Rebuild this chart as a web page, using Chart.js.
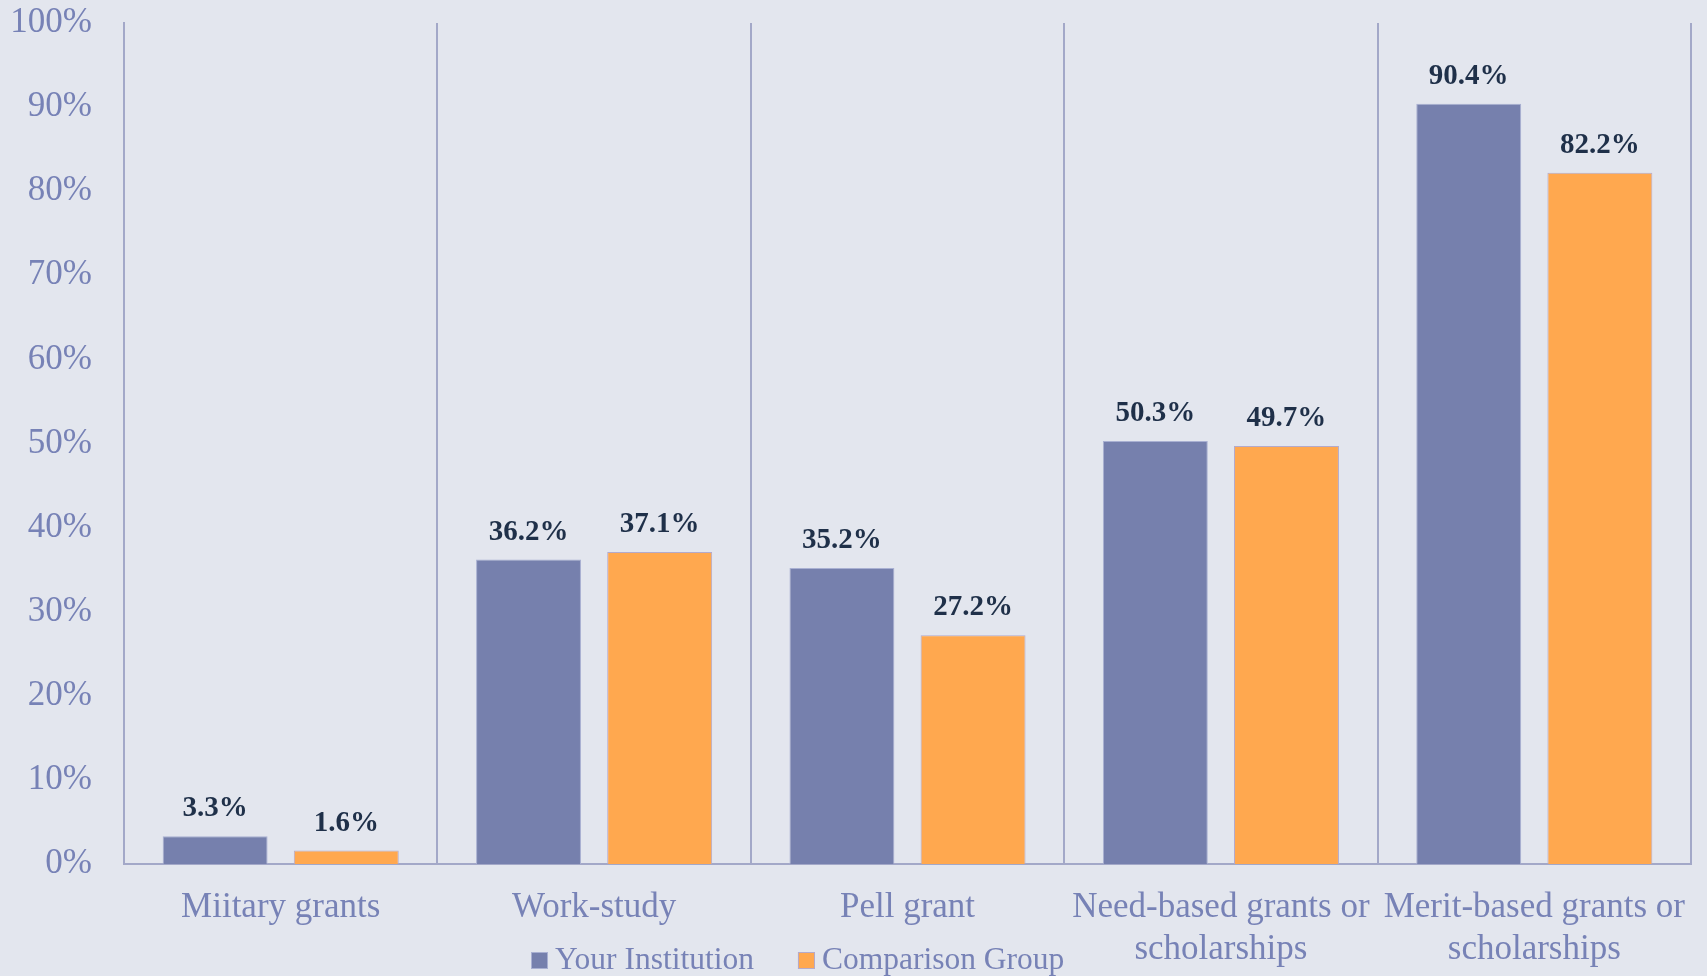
<!DOCTYPE html>
<html>
<head>
<meta charset="utf-8">
<script src="https://cdn.jsdelivr.net/npm/chart.js@4.4.1/dist/chart.umd.min.js"></script>
<style>
  html, body { margin: 0; padding: 0; background: #e3e6ee; }
  #wrap { width: 1707px; height: 976px; }
</style>
</head>
<body>
<div id="wrap"><canvas id="c" width="1707" height="976"></canvas></div>
<script>
const categories = [
  "Miitary grants",
  "Work-study",
  "Pell grant",
  ["Need-based grants or", "scholarships"],
  ["Merit-based grants or", "scholarships"]
];
const yourInstitution = [3.3, 36.2, 35.2, 50.3, 90.4];
const comparisonGroup = [1.6, 37.1, 27.2, 49.7, 82.2];
const seriesNames = ["Your Institution", "Comparison Group"];

const axisColor = '#7782b6';
const gridColor = '#a3a8c8';
const serif = '"Liberation Serif", "DejaVu Serif", serif';

const dataLabels = {
  id: 'dataLabels',
  afterDatasetsDraw(chart) {
    const ctx = chart.ctx;
    ctx.save();
    ctx.font = 'bold 29px ' + serif;
    ctx.fillStyle = '#1f3049';
    ctx.textAlign = 'center';
    ctx.textBaseline = 'alphabetic';
    chart.data.datasets.forEach((ds, di) => {
      const meta = chart.getDatasetMeta(di);
      meta.data.forEach((bar, i) => {
        ctx.fillText(ds.data[i].toFixed(1) + '%', bar.x, bar.y - 20);
      });
    });
    ctx.restore();
  }
};

const customLegend = {
  id: 'customLegend',
  afterDraw(chart) {
    const ctx = chart.ctx;
    ctx.save();
    ctx.font = '31.5px ' + serif;
    ctx.textBaseline = 'middle';
    ctx.textAlign = 'left';
    let x = 531;
    const yc = 961;
    chart.data.datasets.forEach((ds) => {
      ctx.fillStyle = ds.backgroundColor;
      ctx.fillRect(x, yc - 9, 17, 17);
      ctx.strokeStyle = ds.borderColor;
      ctx.lineWidth = 1;
      ctx.strokeRect(x + 0.5, yc - 8.5, 16, 16);
      ctx.fillStyle = axisColor;
      ctx.fillText(ds.label, x + 24, yc);
      x += 24 + ctx.measureText(ds.label).width + 44;
    });
    ctx.restore();
  }
};

new Chart(document.getElementById('c'), {
  type: 'bar',
  data: {
    labels: categories,
    datasets: [
      {
        label: seriesNames[0],
        data: yourInstitution,
        backgroundColor: '#7680ad',
        borderColor: '#a9b0d2',
        borderWidth: 1,
        categoryPercentage: 0.837,
        barPercentage: 0.80
      },
      {
        label: seriesNames[1],
        data: comparisonGroup,
        backgroundColor: '#ffa84f',
        borderColor: '#b4aacb',
        borderWidth: 1,
        categoryPercentage: 0.837,
        barPercentage: 0.80
      }
    ]
  },
  options: {
    responsive: false,
    animation: false,
    devicePixelRatio: 1,
    layout: { padding: { top: 23, right: 16, left: 0, bottom: 0 } },
    plugins: {
      legend: { display: false },
      tooltip: { enabled: false }
    },
    scales: {
      x: {
        offset: true,
        grid: { display: true, offset: true, color: gridColor, lineWidth: 2, drawTicks: false },
        border: { display: true, color: gridColor, width: 2 },
        ticks: {
          color: axisColor,
          font: { family: serif, size: 35, lineHeight: 1.2 },
          padding: 23,
          maxRotation: 0,
          minRotation: 0,
          autoSkip: false
        },
        afterFit(scale) { scale.height = 112; scale.paddingLeft = 0; scale.paddingRight = 0; }
      },
      y: {
        min: 0,
        max: 100,
        grid: { display: false, drawTicks: false },
        border: { display: true, color: gridColor, width: 2 },
        ticks: {
          stepSize: 10,
          color: axisColor,
          font: { family: serif, size: 35 },
          padding: 32,
          callback: (v) => v + '%'
        },
        afterFit(scale) { scale.width = 124; scale.paddingTop = 0; scale.paddingBottom = 0; }
      }
    }
  },
  plugins: [dataLabels, customLegend]
});
</script>
</body>
</html>
